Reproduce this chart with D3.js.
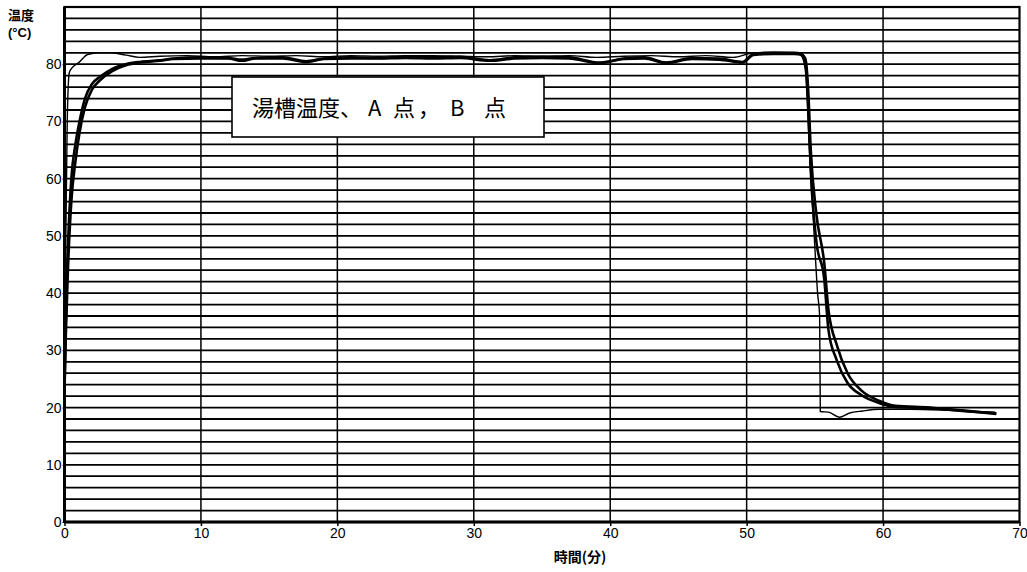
<!DOCTYPE html>
<html>
<head>
<meta charset="utf-8">
<script src="https://cdn.jsdelivr.net/npm/d3@7"></script>
<style>
html,body{margin:0;padding:0;background:#fff;}
svg{display:block;}
</style>
</head>
<body>
<svg id="chart" width="1027" height="572"></svg>
<script>
const xTicks = [0,10,20,30,40,50,60,70];
const yTicks = [0,10,20,30,40,50,60,70,80];
const legendParts = ["湯槽温度、", "A", "点", "，", "B", "点"];
const yTitle1 = "温度";
const yTitle2 = "(°C)";
const xTitle = "時間(分)";

const timeBath = [0,0.1,0.2,0.35,0.6,1.0,1.7,2.5,3.3,4.5,5.5,7,9,11,13,15,17,19,21,23,25,27,29,31,33,35,37,39,41,43,45,47,49,50.5,52,53.5,54.0,54.3,54.6,55.0,55.2,55.35,55.4,56.0,56.8,57.5,58.5,59.7,62,65,68.2];
const bathTemp = [23,50,70,78.5,79.5,80.2,81.7,82,82,81.6,81.2,81.4,81.5,81.3,81.5,81.4,81.5,81.3,81.5,81.4,81.5,81.5,81.4,81.3,81.5,81.4,81.5,81.2,81.4,81.5,81.3,81.5,81.2,82,82.1,82,81.5,79,65,48,40,36,19.3,19.2,18.3,19.0,19.4,19.7,19.7,19.5,19.2];

const timeAB = [0,0.1,0.25,0.5,0.8,1.1,1.5,2,2.6,3.5,4.5,5.5,7,8,10,12,13,14,16,17.7,19,21,23,25,27,29,31.2,33,35,37,39.2,41,42.5,44.1,46,48,49.7,50.5,52,53.5,54,54.3,54.5,54.7,55.1,55.7,56.0,56.6,57.4,58.4,59.7,60.9,63.4,65.8,68.3];
const pointA = [23,36,48,60,66,70,74,76.5,77.8,79.2,80,80.4,80.7,81,81.2,81.1,80.8,81.1,81.2,80.5,81,81.2,81.1,81.3,81.2,81.3,80.7,81.2,81.3,81.2,80.3,81,81.2,80.3,81.1,81,80.4,81.8,82,82,81.8,80.6,73.6,61.4,49.2,42.2,33.5,28.3,24.3,22.2,20.8,20.1,19.9,19.4,19.0];
const pointB = [23,33,44,56,63,68,72.5,75.5,77.2,78.8,79.8,80.3,80.6,80.9,81.0,81.0,80.6,81.0,81.0,80.4,80.9,81.0,81.0,81.1,81.0,81.1,80.6,81.0,81.1,81.0,80.2,80.9,81.0,80.2,80.9,80.8,80.3,81.6,81.8,81.8,81.7,81.0,76,65,54,45,37,31,26,23,21.2,20.3,20.0,19.5,18.9];

const svg = d3.select("#chart");
const x = d3.scaleLinear().domain([0,70]).range([64.5,1019.5]);
const y = d3.scaleLinear().domain([0,90]).range([522,7]);

// horizontal grid every 2 degrees
const hLines = d3.range(2, 90, 2);
svg.append("g").selectAll("line").data(hLines).join("line")
  .attr("x1", x(0)).attr("x2", x(70))
  .attr("y1", d => y(d)).attr("y2", d => y(d))
  .attr("stroke", "#000").attr("stroke-width", 1.8);

// vertical grid
svg.append("g").selectAll("line").data(xTicks.slice(1, -1)).join("line")
  .attr("x1", d => x(d)).attr("x2", d => x(d))
  .attr("y1", y(0)).attr("y2", y(90))
  .attr("stroke", "#000").attr("stroke-width", 1.5);

// frame
svg.append("rect")
  .attr("x", x(0)).attr("y", y(90))
  .attr("width", x(70) - x(0)).attr("height", y(0) - y(90))
  .attr("fill", "none").attr("stroke", "#000").attr("stroke-width", 2.2);
svg.append("line").attr("x1", x(0)).attr("x2", x(0)).attr("y1", y(90)).attr("y2", y(0))
  .attr("stroke", "#000").attr("stroke-width", 3);
svg.append("line").attr("x1", x(0)).attr("x2", x(70)).attr("y1", y(0)).attr("y2", y(0))
  .attr("stroke", "#000").attr("stroke-width", 3);

// axes (labels)
const xAxis = d3.axisBottom(x).tickValues(xTicks).tickSize(4).tickPadding(2).tickFormat(d3.format("d"));
const gx = svg.append("g").attr("transform", `translate(0,${y(0)})`).call(xAxis);
gx.select(".domain").remove();
gx.selectAll("text").attr("font-family", "Liberation Sans, Arial, sans-serif").attr("font-size", 14).attr("fill", "#000");
gx.selectAll("line").attr("stroke", "#000").attr("stroke-width", 1.5);

const yAxis = d3.axisLeft(y).tickValues(yTicks).tickSize(2).tickPadding(1).tickFormat(d3.format("d"));
const gy = svg.append("g").attr("transform", `translate(${x(0)},0)`).call(yAxis);
gy.select(".domain").remove();
gy.selectAll("text").attr("font-family", "Liberation Sans, Arial, sans-serif").attr("font-size", 14).attr("fill", "#000");
gy.selectAll("line").attr("stroke", "#000");

// series
const lineGen = d3.line().x(d => x(d[0])).y(d => y(d[1])).curve(d3.curveMonotoneX);
const zip = (t, v) => t.map((ti, i) => [ti, v[i]]);

svg.append("path").datum(zip(timeAB, pointB)).attr("d", lineGen)
  .attr("fill", "none").attr("stroke", "#000").attr("stroke-width", 2.6);
svg.append("path").datum(zip(timeAB, pointA)).attr("d", lineGen)
  .attr("fill", "none").attr("stroke", "#000").attr("stroke-width", 2.6);
svg.append("path").datum(zip(timeBath, bathTemp)).attr("d", lineGen)
  .attr("fill", "none").attr("stroke", "#000").attr("stroke-width", 1.4);

// legend box
svg.append("rect").attr("x", 232).attr("y", 77).attr("width", 312).attr("height", 60)
  .attr("fill", "#fff").attr("stroke", "#000").attr("stroke-width", 1.6);
const legendX = [252, 368, 393, 418, 450, 484];
const lt = svg.append("text").attr("y", 116)
  .attr("font-family", "Noto Sans CJK JP, sans-serif").attr("font-size", 22)
  .attr("fill", "#000");
lt.selectAll("tspan").data(legendParts).join("tspan")
  .attr("x", (d, i) => legendX[i]).text(d => d);

// titles
svg.append("text").attr("x", 8).attr("y", 20)
  .attr("font-family", "Noto Sans CJK JP, sans-serif").attr("font-size", 13).attr("font-weight", "bold")
  .attr("fill", "#000").text(yTitle1);
svg.append("text").attr("x", 8).attr("y", 37)
  .attr("font-family", "Liberation Sans, Arial, sans-serif").attr("font-size", 13).attr("font-weight", "bold")
  .attr("fill", "#000").text(yTitle2);
svg.append("text").attr("x", 580).attr("y", 562).attr("text-anchor", "middle")
  .attr("font-family", "Noto Sans CJK JP, sans-serif").attr("font-size", 14).attr("font-weight", "bold")
  .attr("fill", "#000").text(xTitle);
</script>
</body>
</html>
